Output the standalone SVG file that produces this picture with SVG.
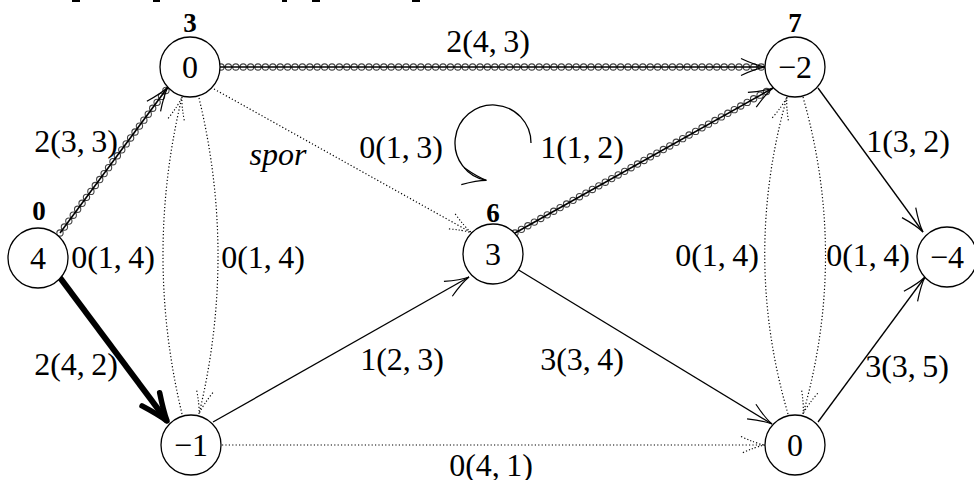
<svg xmlns="http://www.w3.org/2000/svg" width="974" height="480" viewBox="0 0 974 480">
<style>
  .n { fill: #fff; stroke: #000; stroke-width: 1.3; }
  .t { font-family: "Liberation Serif", "DejaVu Serif", serif; font-size: 32px; fill: #000; text-anchor: middle; }
  .b { font-family: "Liberation Serif", "DejaVu Serif", serif; font-size: 27px; font-weight: bold; fill: #000; text-anchor: middle; }
  .it { font-style: italic; }
  .solid { fill: none; stroke: #000; stroke-width: 1.3; }
  .dot { fill: none; stroke: #000; stroke-width: 1.2; stroke-dasharray: 1.2 2.2; }
  .thick { fill: none; stroke: #000; stroke-width: 6; }
  .ring { fill: none; stroke: #444; stroke-width: 7.4; stroke-dasharray: 0 7.4; stroke-linecap: round; }
  .ringin { fill: none; stroke: #fff; stroke-width: 5.2; stroke-dasharray: 0 7.4; stroke-linecap: round; }
  .core { fill: none; stroke: #000; stroke-width: 1.6; }
</style>
<defs>
  <marker id="ah" markerUnits="userSpaceOnUse" markerWidth="1" markerHeight="1" refX="0" refY="0" orient="auto" style="overflow:visible">
    <path d="M-24,-8.5 Q-9,-1.5 0,0 Q-9,1.5 -24,8.5" fill="none" stroke="#000" stroke-width="1.2"/>
  </marker>
  <marker id="ahd" markerUnits="userSpaceOnUse" markerWidth="1" markerHeight="1" refX="0" refY="0" orient="auto" style="overflow:visible">
    <path d="M-24,-8.5 Q-9,-1.5 0,0 Q-9,1.5 -24,8.5" fill="none" stroke="#000" stroke-width="1.1" stroke-dasharray="1.2 2"/>
  </marker>
  <marker id="aht" markerUnits="userSpaceOnUse" markerWidth="1" markerHeight="1" refX="0" refY="0" orient="auto" style="overflow:visible">
    <path d="M-27,-11 Q-10,-3 0,0 Q-10,3 -27,11" fill="none" stroke="#000" stroke-width="5.5" stroke-linecap="round" stroke-linejoin="round"/>
  </marker>
</defs>
<rect width="974" height="480" fill="#fff"/>
<g id="top-fragments" fill="#000">
  <rect x="72" y="0" width="8" height="2"/>
  <rect x="153" y="0" width="7" height="2"/>
  <rect x="282" y="0" width="5" height="2"/>
  <rect x="312" y="0" width="8" height="2"/>
  <rect x="412" y="0" width="8" height="2"/>
</g>
<g id="connectors">
  <g id="e-s-a">
    <path class="ring" d="M60,233 L167,89"/>
    <path class="ringin" d="M60,233 L167,89"/>
    <path class="core" d="M60,233 L168,87" marker-end="url(#ah)"/>
  </g>
  <g id="e-a-d">
    <path class="ring" d="M221,67 L763,67"/>
    <path class="ringin" d="M221,67 L763,67"/>
    <path class="core" d="M220,67 L765,67" marker-end="url(#ah)"/>
  </g>
  <g id="e-c-d">
    <path class="ring" d="M515,233 L771,89"/>
    <path class="ringin" d="M515,233 L771,89"/>
    <path class="core" d="M515,233 L773,88" marker-end="url(#ah)"/>
  </g>
  <path id="e-s-b" class="thick" d="M58,275 L167,421" marker-end="url(#aht)"/>
  <path id="e-a-c" class="dot" d="M214,89 L472,233" marker-end="url(#ahd)"/>
  <path id="e-b-a" class="dot" d="M182,414 Q144,255 182,97" marker-end="url(#ahd)"/>
  <path id="e-a-b" class="dot" d="M199,98 Q237,256 199,414" marker-end="url(#ahd)"/>
  <path id="e-f-d" class="dot" d="M788,414 Q742,256 787,97" marker-end="url(#ahd)"/>
  <path id="e-d-f" class="dot" d="M803,97 Q848,256 803,414" marker-end="url(#ahd)"/>
  <path id="e-b-f" class="dot" d="M222,445 L765,445" marker-end="url(#ahd)"/>
  <path id="e-b-c" class="solid" d="M213,422 L469,277" marker-end="url(#ah)"/>
  <path id="e-c-f" class="solid" d="M517,269 L772,424" marker-end="url(#ah)"/>
  <path id="e-d-e" class="solid" d="M818,88 L923,232" marker-end="url(#ah)"/>
  <path id="e-f-e" class="solid" d="M818,422 L925,277" marker-end="url(#ah)"/>
  <path id="loop" class="solid" d="M531,143 A38,38 0 1 0 486.4,180.4" marker-end="url(#ah)"/>
</g>
<g id="edge-labels">
  <text class="t" x="76" y="152">2(3,&#8201;3)</text>
  <text class="t it" x="278" y="165">spor</text>
  <text class="t" x="488" y="52">2(4,&#8201;3)</text>
  <text class="t" x="401" y="158">0(1,&#8201;3)</text>
  <text class="t" x="582" y="158">1(1,&#8201;2)</text>
  <text class="t" x="908" y="152">1(3,&#8201;2)</text>
  <text class="t" x="113" y="268">0(1,&#8201;4)</text>
  <text class="t" x="263" y="268">0(1,&#8201;4)</text>
  <text class="t" x="717" y="266">0(1,&#8201;4)</text>
  <text class="t" x="868" y="266">0(1,&#8201;4)</text>
  <text class="t" x="76" y="375">2(4,&#8201;2)</text>
  <text class="t" x="402" y="370">1(2,&#8201;3)</text>
  <text class="t" x="582" y="370">3(3,&#8201;4)</text>
  <text class="t" x="907" y="377">3(3,&#8201;5)</text>
  <text class="t" x="491" y="476">0(4,&#8201;1)</text>
</g>
<g id="node-s">
  <circle class="n" cx="38" cy="258" r="30"/>
  <text class="t" x="38" y="269">4</text>
  <text class="b" x="39" y="220">0</text>
</g>
<g id="node-a">
  <circle class="n" cx="190" cy="67" r="30"/>
  <text class="t" x="190" y="78">0</text>
  <text class="b" x="190" y="32">3</text>
</g>
<g id="node-b">
  <circle class="n" cx="191" cy="445" r="30"/>
  <text class="t" x="191" y="456">−1</text>
</g>
<g id="node-c">
  <circle class="n" cx="493" cy="254" r="30"/>
  <text class="t" x="493" y="265">3</text>
  <text class="b" x="493" y="222">6</text>
</g>
<g id="node-d">
  <circle class="n" cx="795" cy="67" r="30"/>
  <text class="t" x="795" y="78">−2</text>
  <text class="b" x="795" y="32">7</text>
</g>
<g id="node-e">
  <circle class="n" cx="947" cy="257" r="30"/>
  <text class="t" x="947" y="268">−4</text>
</g>
<g id="node-f">
  <circle class="n" cx="795" cy="445" r="30"/>
  <text class="t" x="795" y="456">0</text>
</g>
</svg>
